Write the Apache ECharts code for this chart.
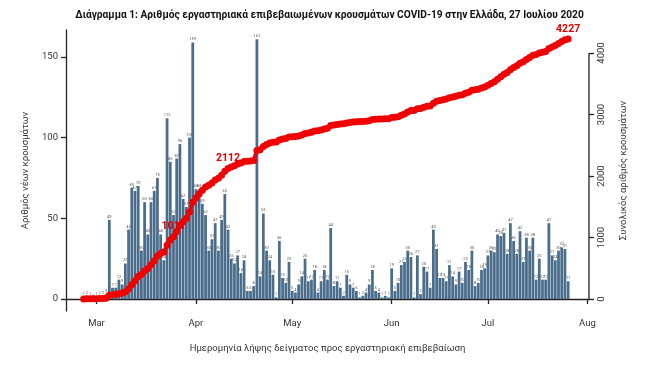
<!DOCTYPE html>
<html lang="el">
<head>
    <meta charset="UTF-8">
    <title>Διάγραμμα 1</title>
    <script src="https://cdn.jsdelivr.net/npm/echarts@6/dist/echarts.min.js"></script>
    <style>
        html, body { margin: 0; padding: 0; background: #fff; }
        #container { width: 659px; height: 375px; }
    </style>
</head>
<body>
<div id="container"></div>
<script>
    // ημερήσια κρούσματα, από 26 Φεβ έως 26 Ιουλ 2020
    var firstDay = '2020-02-26';
    var daily = [
        1, 2, 1, 0, 1, 2, 2, 3, 49, 7, 7, 12, 9, 22, 43, 69, 67, 70, 30, 60,
        40, 60, 67, 75, 40, 24, 112, 85, 52, 87, 96, 62, 57, 100, 159, 68, 68, 59, 52, 30,
        37, 47, 30, 49, 65, 43, 25, 22, 27, 16, 24, 5, 5, 8, 161, 14, 53, 30, 24, 15,
        1, 36, 13, 10, 23, 5, 4, 9, 14, 25, 11, 12, 18, 4, 11, 18, 12, 44, 8, 11,
        7, 2, 15, 9, 7, 5, 1, 2, 4, 9, 18, 5, 4, 1, 2, 1, 19, 5, 10, 21,
        23, 30, 26, 1, 27, 3, 20, 17, 7, 43, 31, 13, 13, 11, 21, 14, 9, 17, 10, 23,
        18, 30, 8, 10, 18, 19, 27, 30, 29, 40, 39, 41, 28, 47, 36, 28, 42, 23, 38, 30,
        38, 12, 25, 12, 12, 47, 27, 24, 30, 32, 31, 11
    ];
    // συνολικός αριθμός (γραμμή)
    var cumulative = [
        1, 3, 4, 4, 5, 7, 9, 12, 61, 68, 75, 87, 96, 118, 161, 230, 297, 367, 397, 457,
        497, 557, 624, 699, 739, 763, 875, 960, 1012, 1099, 1195, 1257, 1314, 1414, 1573, 1641, 1709, 1768, 1820, 1850,
        1887, 1934, 1964, 2013, 2078, 2121, 2146, 2168, 2195, 2211, 2235, 2240, 2245, 2253, 2414, 2428, 2481, 2511, 2535, 2550,
        2551, 2587, 2600, 2610, 2633, 2638, 2642, 2651, 2665, 2690, 2701, 2713, 2731, 2735, 2746, 2764, 2776, 2820, 2828, 2839,
        2846, 2848, 2863, 2872, 2879, 2884, 2885, 2887, 2891, 2900, 2918, 2923, 2927, 2928, 2930, 2931, 2950, 2955, 2965, 2986,
        3009, 3039, 3065, 3066, 3093, 3096, 3116, 3133, 3140, 3183, 3214, 3227, 3240, 3251, 3272, 3286, 3295, 3312, 3322, 3345,
        3363, 3393, 3401, 3411, 3429, 3448, 3475, 3505, 3534, 3574, 3613, 3654, 3682, 3729, 3765, 3793, 3835, 3858, 3896, 3926,
        3964, 3976, 4001, 4013, 4025, 4072, 4099, 4123, 4153, 4185, 4216, 4227
    ];
    // ετικέτες πάνω στη γραμμή (δείκτης ημέρας -> κείμενο)
    var lineLabels = { 28: '1011', 45: '2112', 151: '4227' };

    var leftTicks = [0, 50, 100, 150];
    var rightTicks = [0, 1000, 2000, 3000, 4000];
    var monthNames = ['Jan', 'Feb', 'Mar', 'Apr', 'May', 'Jun', 'Jul', 'Aug', 'Sep', 'Oct', 'Nov', 'Dec'];

    // άξονας x: 21 Φεβ έως 1 Αυγ
    var axisStart = '2020-02-21';
    var axisEnd = '2020-08-01';

    var FONT = "Roboto, 'Noto Sans', sans-serif";

    function iso(d) {
        var m = d.getUTCMonth() + 1, day = d.getUTCDate();
        return d.getUTCFullYear() + '-' + (m < 10 ? '0' + m : m) + '-' + (day < 10 ? '0' + day : day);
    }

    var days = [];
    var t = new Date(axisStart + 'T00:00:00Z');
    var tEnd = new Date(axisEnd + 'T00:00:00Z');
    while (t <= tEnd) {
        days.push(iso(t));
        t = new Date(t.getTime() + 86400000);
    }
    var offset = days.indexOf(firstDay);

    var barData = days.map(function (d, i) {
        var k = i - offset;
        return (k >= 0 && k < daily.length) ? daily[k] : null;
    });
    var lineData = days.map(function (d, i) {
        var k = i - offset;
        return (k >= 0 && k < cumulative.length) ? cumulative[k] : null;
    });

    function isMonthStart(index, value) {
        return value.slice(8) === '01';
    }

    var axisColor = '#222';
    var dom = document.getElementById('container');
    var myChart = echarts.init(dom, null, { renderer: 'canvas' });

    var option = {
        backgroundColor: '#fff',
        animation: false,
        textStyle: { fontFamily: FONT },
        title: {
            text: 'Διάγραμμα 1: Αριθμός εργαστηριακά επιβεβαιωμένων κρουσμάτων COVID-19 στην Ελλάδα, 27 Ιουλίου 2020',
            left: 'center',
            top: 5,
            textStyle: { fontFamily: FONT, fontSize: 10.2, fontWeight: 'bold', color: '#111' }
        },
        grid: { left: 66, right: 70, top: 30, bottom: 64 },
        xAxis: {
            type: 'category',
            data: days,
            boundaryGap: true,
            name: 'Ημερομηνία λήψης δείγματος προς εργαστηριακή επιβεβαίωση',
            nameLocation: 'middle',
            nameGap: 33,
            nameTextStyle: { fontFamily: FONT, fontSize: 9.5, color: '#333' },
            axisLine: { show: true, lineStyle: { color: axisColor, width: 1.3 } },
            axisTick: { show: true, alignWithLabel: true, interval: isMonthStart, length: 5, lineStyle: { color: axisColor, width: 1.3 } },
            axisLabel: {
                interval: isMonthStart,
                margin: 8,
                fontSize: 9.5,
                color: '#333',
                formatter: function (v) { return monthNames[parseInt(v.slice(5, 7), 10) - 1]; }
            },
            splitLine: { show: false }
        },
        yAxis: [
            {
                type: 'value',
                min: -7.44,
                max: 166.7,
                name: 'Αριθμός νέων κρουσμάτων',
                nameLocation: 'middle',
                nameGap: 31,
                nameTextStyle: { fontFamily: FONT, fontSize: 9.5, color: '#333' },
                axisLine: { show: true, lineStyle: { color: axisColor, width: 1.3 } },
                axisTick: { show: true, customValues: leftTicks, length: 5, lineStyle: { color: axisColor, width: 1.3 } },
                axisLabel: { customValues: leftTicks, fontSize: 9.5, color: '#333', margin: 8 },
                splitLine: { show: false }
            },
            {
                type: 'value',
                min: -195,
                max: 4374,
                name: 'Συνολικός αριθμός κρουσμάτων',
                nameLocation: 'middle',
                nameGap: 30,
                nameTextStyle: { fontFamily: FONT, fontSize: 9.5, color: '#333' },
                axisLine: { show: false },
                axisTick: { show: true, customValues: rightTicks, length: 5, lineStyle: { color: axisColor, width: 1.3 } },
                axisLabel: {
                    customValues: rightTicks, rotate: 90, fontSize: 9.5, color: '#333', margin: 8,
                    formatter: function (v) { return String(v); }
                },
                splitLine: { show: false }
            }
        ],
        series: [
            {
                name: 'Νέα κρούσματα',
                type: 'bar',
                data: barData,
                yAxisIndex: 0,
                barCategoryGap: '14%',
                itemStyle: { color: '#4a6d8c' },
                label: {
                    show: true,
                    position: 'top',
                    distance: 1,
                    fontSize: 4,
                    color: '#555'
                }
            },
            {
                name: 'Συνολικά',
                type: 'line',
                data: lineData,
                yAxisIndex: 1,
                symbol: 'circle',
                symbolSize: 7,
                showAllSymbol: true,
                lineStyle: { color: '#f00000', width: 4 },
                itemStyle: { color: '#f00000' },
                label: {
                    show: true,
                    position: 'top',
                    distance: 1,
                    fontFamily: FONT,
                    fontSize: 10.5,
                    fontWeight: 'bold',
                    color: '#e00000',
                    formatter: function (p) {
                        var k = p.dataIndex - offset;
                        return lineLabels[k] || '';
                    }
                },
                z: 3
            }
        ]
    };

    myChart.setOption(option);

    // δεξιός άξονας: γραμμή μόνο από 0 έως 4000
    var p0 = myChart.convertToPixel({ xAxisIndex: 0, yAxisIndex: 1 }, [days.length - 1, rightTicks[0]]);
    var p1 = myChart.convertToPixel({ xAxisIndex: 0, yAxisIndex: 1 }, [days.length - 1, rightTicks[rightTicks.length - 1]]);
    var rightX = myChart.getWidth() - option.grid.right;
    myChart.setOption({
        graphic: [{
            type: 'line',
            shape: { x1: rightX, y1: p0[1], x2: rightX, y2: p1[1] },
            style: { stroke: axisColor, lineWidth: 1.3 }
        }]
    });
</script>
</body>
</html>
